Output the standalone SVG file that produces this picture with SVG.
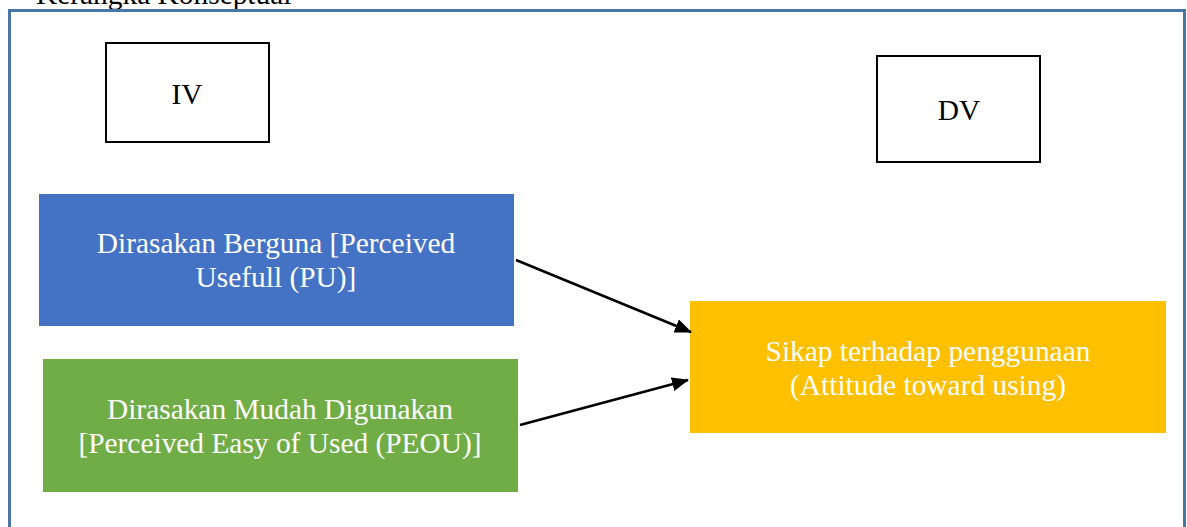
<svg xmlns="http://www.w3.org/2000/svg" width="1187" height="527" viewBox="0 0 1187 527">
<defs>
<style>
.t{font-family:"Liberation Serif","Times New Roman",serif;font-size:29.4px;text-anchor:middle}
.w{fill:#ffffff}
.k{fill:#000000}
.lbl{fill:#ffffff;stroke:#000000;stroke-width:2}
.con{stroke:#000000;stroke-width:2.5;fill:none;marker-end:url(#ah)}
</style>
<marker id="ah" markerWidth="17" markerHeight="14" refX="16" refY="7" orient="auto" markerUnits="userSpaceOnUse" viewBox="0 0 17 14">
<path d="M0,0 L17,7 L0,14 z" fill="#000"/>
</marker>
</defs>
<rect width="1187" height="527" fill="#ffffff"/>
<text x="36" y="4" font-family="Liberation Serif, serif" font-size="29.4" fill="#000">Kerangka Konseptual</text>
<rect id="frame" x="9.5" y="10.5" width="1175" height="530" fill="none" stroke="#4a76a5" stroke-width="3"/>
<g id="iv"><rect class="lbl" x="106" y="43" width="163" height="99"/><text class="t k" x="187" y="104">IV</text></g>
<g id="dv"><rect class="lbl" x="877" y="56" width="163" height="106"/><text class="t k" x="959" y="120">DV</text></g>
<g id="pu"><rect x="39" y="194" width="475" height="132" fill="#4472c4"/>
<text class="t w" x="276" y="253">Dirasakan Berguna [Perceived</text><text class="t w" x="276" y="287">Usefull (PU)]</text></g>
<g id="peou"><rect x="43" y="359" width="475" height="133" fill="#70ad47"/>
<text class="t w" x="280" y="419">Dirasakan Mudah Digunakan</text><text class="t w" x="280" y="453">[Perceived Easy of Used (PEOU)]</text></g>
<g id="att"><rect x="690" y="301" width="476" height="132" fill="#ffc000"/>
<text class="t w" x="928" y="361">Sikap terhadap penggunaan</text><text class="t w" x="928" y="395">(Attitude toward using)</text></g>
<g id="connectors">
<line class="con" x1="516" y1="260" x2="691" y2="332"/>
<line class="con" x1="520" y1="425" x2="688" y2="380"/>
</g>
</svg>
